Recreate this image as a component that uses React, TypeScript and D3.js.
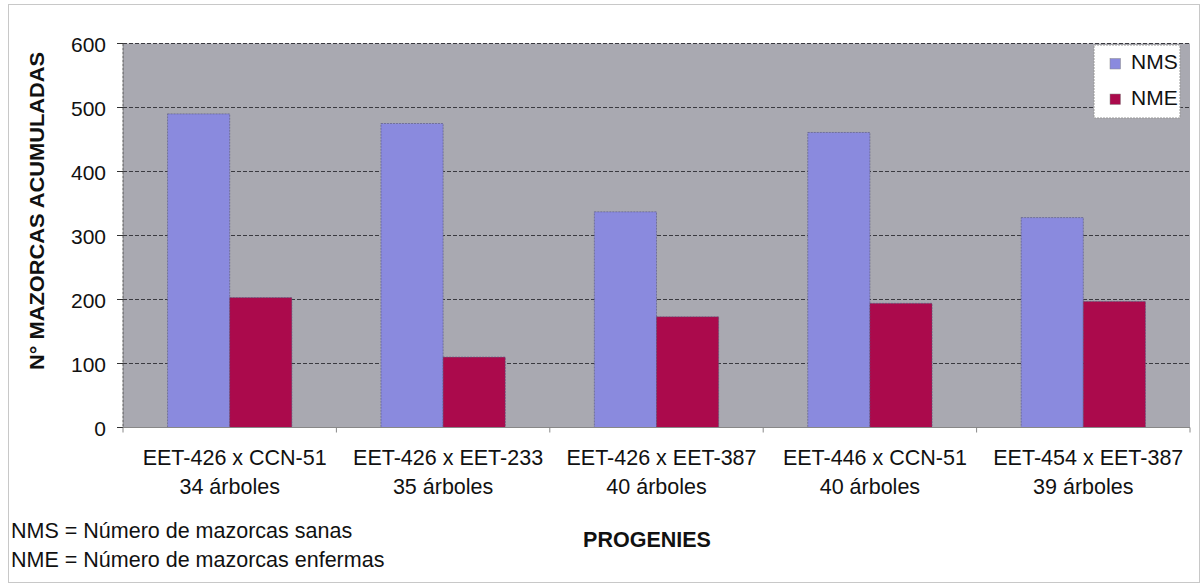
import React from "react";
import * as d3 from "d3";

const categories = ["EET-426 x CCN-51", "EET-426 x EET-233", "EET-426 x EET-387", "EET-446 x CCN-51", "EET-454 x EET-387"];
const trees = ["34 árboles", "35 árboles", "40 árboles", "40 árboles", "39 árboles"];
const seriesNames = ["NMS", "NME"];
const nms = [490, 475, 337, 461, 328];
const nme = [203, 110, 173, 194, 197];
const yTicks = [0, 100, 200, 300, 400, 500, 600];
const notes = ["NMS = Número de mazorcas sanas", "NME = Número de mazorcas enfermas"];

const colors = ["#8a8ade", "#ab0a4c"];
const FONT = "'Liberation Sans', Arial, sans-serif";

export default function App() {
  const W = 1202, H = 585;
  const left = 123, right = 1190, top = 43.5, bottom = 427.5;
  const x = d3.scaleBand<string>().domain(categories).range([left, right]).paddingInner(0).paddingOuter(0);
  const inner = d3.scaleBand<string>().domain(seriesNames).range([0, x.bandwidth()]).paddingOuter(0.717).paddingInner(0);
  const y = d3.scaleLinear().domain([0, 600]).range([bottom, top]);
  const series = [nms, nme];

  return (
    <svg width={W} height={H} style={{ position: "absolute", left: 0, top: 0, background: "#fff" }} fontFamily={FONT}>
      <rect x={8.5} y={4.5} width={1191} height={578} fill="none" stroke="#c8c8c8" strokeWidth={1} />
      <rect x={left} y={top} width={right - left} height={bottom - top} fill="#a9a9b1" />
      {yTicks.filter(t => t > 0).map(t => (
        <line key={"g" + t} x1={left} x2={right} y1={y(t)} y2={y(t)} stroke="#3a3a40" strokeWidth={1} strokeDasharray="4,2" />
      ))}
      {series.map((vals, si) =>
        categories.map((c, ci) => {
          const bx = (x(c) as number) + (inner(seriesNames[si]) as number);
          return (
            <rect key={si + "-" + ci} x={bx} y={y(vals[ci])} width={inner.bandwidth()} height={y(0) - y(vals[ci])}
              fill={colors[si]} stroke="#55557a" strokeWidth={0.6} strokeDasharray="2,1" />
          );
        })
      )}
      <line x1={left} x2={left} y1={top} y2={bottom} stroke="#555" strokeWidth={1} strokeDasharray="3,1" />
      <line x1={left - 6} x2={right} y1={bottom} y2={bottom} stroke="#888" strokeWidth={1} />
      {yTicks.map(t => (
        <g key={"t" + t}>
          <line x1={left - 6} x2={left} y1={y(t)} y2={y(t)} stroke="#333" />
          <text x={106} y={y(t) + 8} textAnchor="end" fontSize={21} fill="#111">{t}</text>
        </g>
      ))}
      {categories.map((c, i) => (
        <line key={"xt" + i} x1={x(c) as number} x2={x(c) as number} y1={bottom} y2={bottom + 5} stroke="#888" />
      ))}
      <line x1={right} x2={right} y1={bottom} y2={bottom + 5} stroke="#888" />
      {categories.map((c, i) => (
        <g key={"xl" + i}>
          <text x={(x(c) as number) + x.bandwidth() / 2 + 5} y={465} textAnchor="middle" fontSize={21.5} fill="#111">{c}</text>
          <text x={(x(c) as number) + x.bandwidth() / 2} y={494} textAnchor="middle" fontSize={21.5} fill="#111">{trees[i]}</text>
        </g>
      ))}
      <text transform={`translate(44,211) rotate(-90)`} textAnchor="middle" fontSize={21} fontWeight="bold" fill="#111"
        textLength={318} lengthAdjust="spacingAndGlyphs">N° MAZORCAS ACUMULADAS</text>
      <text x={647} y={547} textAnchor="middle" fontSize={21.5} fontWeight="bold" fill="#111">PROGENIES</text>
      {notes.map((n, i) => (
        <text key={"n" + i} x={11} y={537.5 + i * 29} fontSize={21.5} fill="#111">{n}</text>
      ))}
      <rect x={1094} y={45} width={86} height={73} fill="#fff" stroke="#999" strokeDasharray="2,1" />
      {seriesNames.map((s, i) => (
        <g key={"lg" + i}>
          <rect x={1110} y={58.5 + i * 35.5} width={10.5} height={10.5} fill={colors[i]} stroke="#888" strokeWidth={0.5} />
          <text x={1131} y={69 + i * 36} fontSize={21} fill="#111">{s}</text>
        </g>
      ))}
    </svg>
  );
}
